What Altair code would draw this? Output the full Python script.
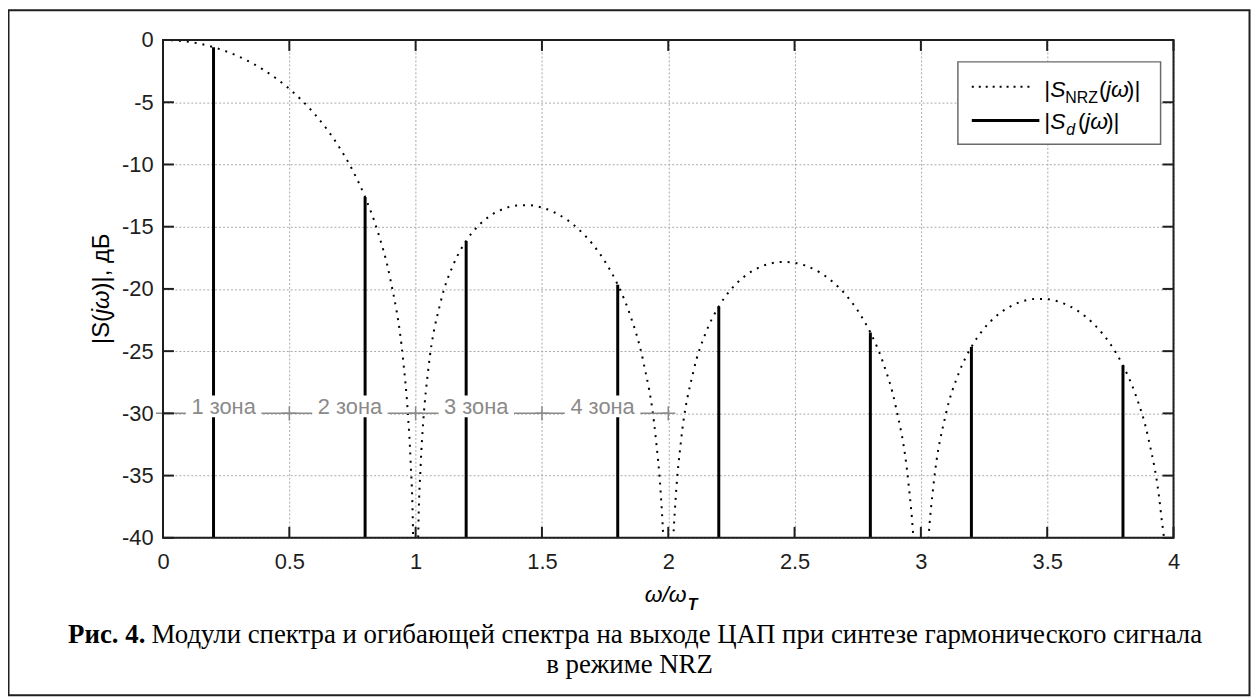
import altair as alt
import pandas as pd

# ---- data ----
env_x = [0, 0.05, 0.1, 0.15, 0.2, 0.25, 0.3, 0.35, 0.4, 0.45, 0.5, 0.55, 0.6, 0.65, 0.7, 0.75,
         0.8, 0.85, 0.9, 0.95, 0.97, 0.98, 0.99, 1.0, 1.01, 1.02, 1.03, 1.05, 1.1, 1.15, 1.2,
         1.25, 1.3, 1.35, 1.4, 1.45, 1.5, 1.55, 1.6, 1.65, 1.7, 1.75, 1.8, 1.85, 1.9, 1.95,
         1.97, 1.98, 1.99, 2.0, 2.01, 2.02, 2.03, 2.05, 2.1, 2.15, 2.2, 2.25, 2.3, 2.35, 2.4,
         2.45, 2.5, 2.55, 2.6, 2.65, 2.7, 2.75, 2.8, 2.85, 2.9, 2.95, 2.97, 2.98, 3.0, 3.02,
         3.03, 3.05, 3.1, 3.15, 3.2, 3.25, 3.3, 3.35, 3.4, 3.45, 3.5, 3.55, 3.6, 3.65, 3.7,
         3.75, 3.8, 3.85, 3.9, 3.95, 3.97, 4.0]
env_y = [0, -0.04, -0.14, -0.32, -0.58, -0.91, -1.33, -1.83, -2.42, -3.12, -3.92, -4.86,
         -5.94, -7.20, -8.69, -10.45, -12.62, -15.39, -19.23, -25.61, -30.21, -33.81, -39.91,
         -80, -40.09, -34.16, -30.73, -26.48, -20.97, -18.02, -16.14, -14.89, -14.06, -13.55,
         -13.30, -13.28, -13.46, -13.86, -14.46, -15.30, -16.39, -17.81, -19.66, -22.15,
         -25.72, -31.86, -36.36, -39.92, -45.98, -80, -46.07, -40.09, -36.62, -32.29, -26.59,
         -23.45, -21.41, -20.00, -19.02, -18.37, -17.98, -17.83, -17.90, -18.18, -18.68,
         -19.41, -20.41, -21.74, -23.50, -25.90, -29.39, -35.45, -39.93, -43.47, -80, -43.59,
         -40.10, -35.74, -29.97, -26.77, -24.66, -23.19, -22.15, -21.45, -21.01, -20.81,
         -20.82, -21.06, -21.50, -22.19, -23.15, -24.43, -26.15, -28.51, -31.96, -37.99,
         -42.45, -80]
line_x = [0.2, 0.8, 1.2, 1.8, 2.2, 2.8, 3.2, 3.8]
line_y = [-0.58, -12.62, -16.14, -19.66, -21.41, -23.50, -24.66, -26.15]
zone_labels = ["1 зона", "2 зона", "3 зона", "4 зона"]
zone_x = [0.24, 0.74, 1.24, 1.74]
zone_level = -30
zone_marks = [0, 0.5, 1, 1.5, 2]
x_ticks = [0, 0.5, 1, 1.5, 2, 2.5, 3, 3.5, 4]
y_ticks = [0, -5, -10, -15, -20, -25, -30, -35, -40]
y_min = -40

caption_bold = "Рис. 4."
caption_line1 = "Модули спектра и огибающей спектра на выходе ЦАП при синтезе гармонического сигнала"
caption_line2 = "в режиме NRZ"

W, H = 1017, 501
SANS = "Liberation Sans"
SERIF = "Liberation Serif"
INK = "#1e1e1e"
GREY = "#8a8a8a"

xs = alt.Scale(domain=[0, 4], nice=False, zero=False)
ys = alt.Scale(domain=[-40, 0], nice=False, zero=False)

env_df = pd.DataFrame({"x": env_x, "y": env_y})
lines_df = pd.DataFrame({"x": line_x, "y": line_y, "y0": [y_min] * len(line_x)})
zone_df = pd.DataFrame({"x": zone_x, "label": zone_labels, "y": [zone_level] * len(zone_x)})
cross_df = pd.DataFrame({"x": zone_marks, "y": [zone_level] * len(zone_marks)})
zline_df = pd.DataFrame({"x": [min(zone_marks)], "x2": [max(zone_marks)], "y": [zone_level]})
xt_df = pd.DataFrame({"x": x_ticks})
yt_df = pd.DataFrame({"y": y_ticks})
one = pd.DataFrame({"a": [0]})

ax_x = alt.Axis(values=x_ticks, labelExpr="datum.value + ''", title=None, grid=True,
                gridDash=[2, 2], gridColor="#a8a8a8", gridWidth=1, ticks=False, domain=False,
                labelFont=SANS, labelFontSize=22, labelColor=INK, labelPadding=14,
                labelFlush=False, labelOverlap=False)
ax_y = alt.Axis(values=y_ticks, labelExpr="datum.value + ''", title=None, grid=True,
                gridDash=[2, 2], gridColor="#a8a8a8", gridWidth=1, ticks=False, domain=False,
                labelFont=SANS, labelFontSize=22, labelColor=INK, labelPadding=10,
                labelFlush=False, labelOverlap=False)

spect = alt.Chart(lines_df).mark_rule(color="black", strokeWidth=3).encode(
    x=alt.X("x:Q", scale=xs, axis=ax_x),
    y=alt.Y("y:Q", scale=ys, axis=ax_y),
    y2="y0:Q",
)

envelope = alt.Chart(env_df).mark_line(color="black", strokeWidth=2, strokeDash=[2, 6],
                                       clip=True, interpolate="monotone").encode(
    x=alt.X("x:Q", scale=xs), y=alt.Y("y:Q", scale=ys))

zline = alt.Chart(zline_df).mark_rule(color=GREY, strokeWidth=1.5).encode(
    x=alt.X("x:Q", scale=xs), x2="x2:Q", y=alt.Y("y:Q", scale=ys))

zbox = alt.Chart(zone_df).mark_rect(color="white", width=76, height=22, yOffset=-7).encode(
    x=alt.X("x:Q", scale=xs), y=alt.Y("y:Q", scale=ys))

ztext = alt.Chart(zone_df).mark_text(font=SANS, fontSize=22, color=GREY, align="center",
                                     baseline="alphabetic", dy=1).encode(
    x=alt.X("x:Q", scale=xs), y=alt.Y("y:Q", scale=ys), text="label:N")

cross = alt.Chart(cross_df).mark_point(shape="M-1,0L1,0M0,-1L0,1", size=200, filled=False,
                                       color=GREY, strokeWidth=1.5, opacity=1).encode(
    x=alt.X("x:Q", scale=xs), y=alt.Y("y:Q", scale=ys))

TK = 11
tick_b = alt.Chart(xt_df).mark_rule(color=INK, strokeWidth=2).encode(
    x=alt.X("x:Q", scale=xs), y=alt.value(H), y2=alt.value(H - TK))
tick_t = alt.Chart(xt_df).mark_rule(color=INK, strokeWidth=2).encode(
    x=alt.X("x:Q", scale=xs), y=alt.value(0), y2=alt.value(TK))
tick_l = alt.Chart(yt_df).mark_rule(color=INK, strokeWidth=2).encode(
    y=alt.Y("y:Q", scale=ys), x=alt.value(0), x2=alt.value(TK))
tick_r = alt.Chart(yt_df).mark_rule(color=INK, strokeWidth=2).encode(
    y=alt.Y("y:Q", scale=ys), x=alt.value(W), x2=alt.value(W - TK))

box = alt.Chart(one).mark_rect(fill=None, stroke=INK, strokeWidth=2).encode(
    x=alt.value(0), x2=alt.value(W), y=alt.value(0), y2=alt.value(H))

frame = alt.Chart(one).mark_rect(fill=None, stroke=INK, strokeWidth=2).encode(
    x=alt.value(-155.5), x2=alt.value(1093.5), y=alt.value(-30), y2=alt.value(659.5))

# ---- legend ----
LX0, LX1, LY0, LY1 = 800, 1004, 22, 105
leg_box = alt.Chart(one).mark_rect(fill="white", stroke="#6a6a6a", strokeWidth=1.5).encode(
    x=alt.value(LX0), x2=alt.value(LX1), y=alt.value(LY0), y2=alt.value(LY1))
leg_dot = alt.Chart(one).mark_rule(color="black", strokeWidth=2, strokeDash=[2, 5]).encode(
    x=alt.value(814), x2=alt.value(877), y=alt.value(47))
leg_sol = alt.Chart(one).mark_rule(color="black", strokeWidth=3).encode(
    x=alt.value(814), x2=alt.value(882), y=alt.value(81))


def txt(s, x, y, size=22, style="normal", weight="normal", font=SANS, align="left",
        angle=0, baseline="alphabetic", color="black"):
    kw = dict(font=font, fontSize=size, fontStyle=style, fontWeight=weight, align=align,
              baseline=baseline, color=color, text=s)
    if angle:
        kw["angle"] = angle
    return alt.Chart(one).mark_text(**kw).encode(x=alt.value(x), y=alt.value(y))


B1, B2 = 57, 90
legend_texts = [
    txt("|", 887, B1, size=23), txt("S", 893, B1, size=23, style="italic"),
    txt("NRZ", 908, B1 + 6, size=16),
    txt("(", 942, B1, size=23), txt("jω", 949, B1, size=23, style="italic"),
    txt(")|", 970, B1, size=23),
    txt("|", 887, B2, size=23), txt("S", 893, B2, size=23, style="italic"),
    txt("d", 909, B2 + 6, size=16, style="italic"),
    txt("(", 921, B2, size=23), txt("jω", 928, B2, size=23, style="italic"),
    txt(")|", 949, B2, size=23),
]

# ---- axis titles ----
xtitle = [txt("ω/ω", 527, 566, size=23, style="italic", align="right"),
          txt("T", 528, 574, size=16, style="italic", weight="bold")]
YT_X = -61
ytitle = [txt("|S(", YT_X, 306, size=24, angle=270, baseline="middle"),
          txt("jω", YT_X, 276, size=24, angle=270, baseline="middle", style="italic"),
          txt(")|, дБ", YT_X, 252, size=24, angle=270, baseline="middle")]

# ---- caption ----
caption = [txt(caption_bold, -95.5, 607, size=27, weight="bold", font=SERIF),
           txt(caption_line1, -11.5, 607, size=27, font=SERIF),
           txt(caption_line2, 469.5, 637, size=27, font=SERIF, align="center")]

chart = alt.layer(
    spect, envelope, zline, zbox, ztext, cross, tick_b, tick_t, tick_l, tick_r, box,
    leg_box, leg_dot, leg_sol, *legend_texts, *xtitle, *ytitle, *caption, frame,
).properties(
    width=W, height=H,
    padding={"left": 156, "top": 30, "right": 79, "bottom": 161},
    autosize=alt.AutoSizeParams(type="none"),
    background="white",
).configure_view(stroke=None)

chart.save("out.html", embed_options={"renderer": "svg", "actions": False})
